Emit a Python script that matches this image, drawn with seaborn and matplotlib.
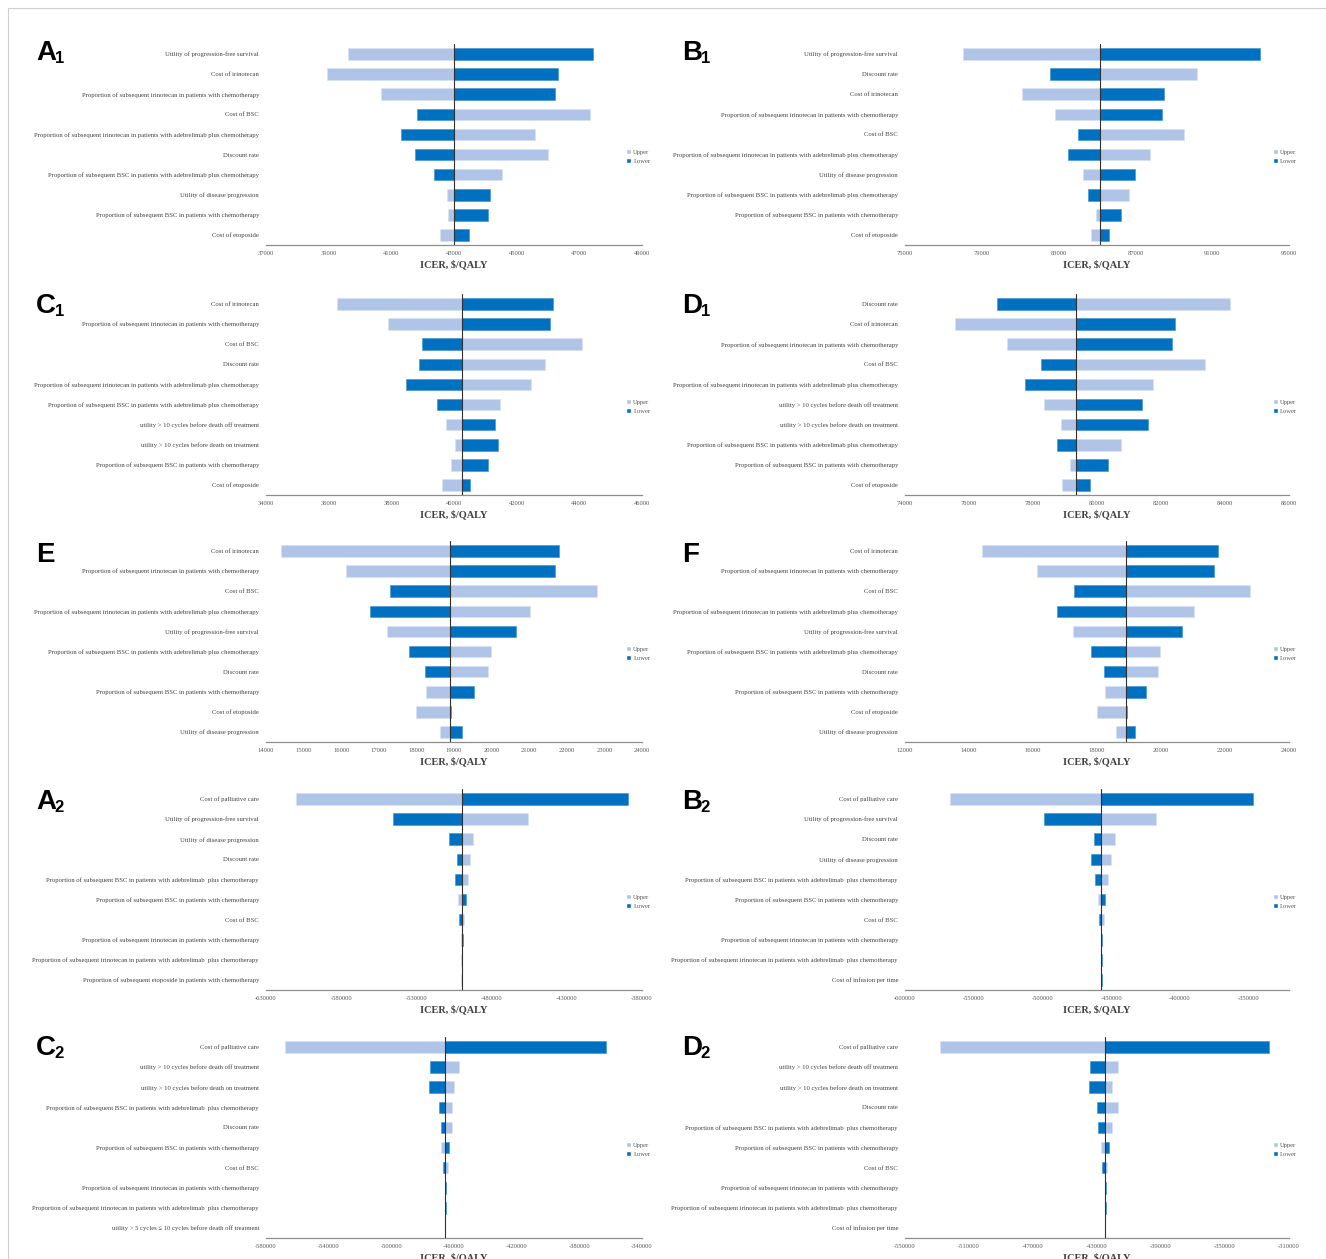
import numpy as np
import pandas as pd
import matplotlib
matplotlib.use("Agg")
import matplotlib.pyplot as plt
import seaborn as sns
from matplotlib.patches import Patch, Rectangle

sns.set_theme(style="white")
plt.rcParams['font.family'] = ['Liberation Serif', 'DejaVu Serif']

LIGHT = "#AFC4E7"
DARK = "#0070C0"

# ---------------- data ----------------
PFS = "Utility of progression-free survival"
IRI = "Cost of irinotecan"
PIC = "Proportion of subsequent irinotecan in patients with chemotherapy"
BSC = "Cost of BSC"
PIA = "Proportion of subsequent irinotecan in patients with adebrelimab plus chemotherapy"
DIS = "Discount rate"
PBA = "Proportion of subsequent BSC in patients with adebrelimab plus chemotherapy"
UDP = "Utility of disease progression"
PBC = "Proportion of subsequent BSC in patients with chemotherapy"
ETO = "Cost of etoposide"
UOFF = "utility > 10 cycles before death off treatment"
UON = "utility > 10 cycles before death on treatment"
PAL = "Cost of palliative care"
PBA2 = "Proportion of subsequent BSC in patients with adebrelimab  plus chemotherapy"
PIA2 = "Proportion of subsequent irinotecan in patients with adebrelimab  plus chemotherapy"
PEC = "Proportion of subsequent etoposide in patients with chemotherapy"
INF = "Cost of infusion per time"
U5 = "utility > 5 cycles \u2264 10 cycles before death off treatment"

a1_labels = [PFS, IRI, PIC, BSC, PIA, DIS, PBA, UDP, PBC, ETO]
a1_upper = [39620, 38950, 40680, 47330, 45570, 46000, 44530, 42790, 42800, 42540]
a1_lower = [47450, 46320, 46220, 41830, 41310, 41770, 42360, 44140, 44090, 43470]
a1_base = 43000

b1_labels = [PFS, DIS, IRI, PIC, BSC, PIA, UDP, PBA, PBC, ETO]
b1_upper = [78040, 90200, 81090, 82800, 89510, 87760, 84290, 86690, 84960, 84690]
b1_lower = [93510, 82560, 88490, 88380, 84000, 83470, 86960, 84510, 86240, 85620]
b1_base = 85150

c1_labels = [IRI, PIC, BSC, DIS, PIA, PBA, UOFF, UON, PBC, ETO]
c1_upper = [36270, 37880, 44100, 42920, 42470, 41480, 39750, 40020, 39890, 39630]
c1_lower = [43160, 43060, 38980, 38870, 38480, 39470, 41320, 41410, 41080, 40500]
c1_base = 40270

d1_labels = [DIS, IRI, PIC, BSC, PIA, UOFF, UON, PBA, PBC, ETO]
d1_upper = [84160, 75570, 77200, 83390, 81740, 78340, 78870, 80760, 79160, 78910]
d1_lower = [76870, 82430, 82340, 78260, 77760, 81420, 81590, 78740, 80350, 79780]
d1_base = 79350

e_labels = [IRI, PIC, BSC, PIA, PFS, PBA, DIS, PBC, ETO, UDP]
e_upper = [14390, 16130, 22790, 21020, 17230, 19980, 19910, 18260, 18000, 18620]
e_lower = [21780, 21680, 17290, 16770, 20640, 17810, 18230, 19540, 18930, 19200]
e_base = 18900

f_labels = [IRI, PIC, BSC, PIA, PFS, PBA, DIS, PBC, ETO, UDP]
f_upper = [14400, 16120, 22790, 21030, 17240, 19980, 19920, 18260, 17990, 18600]
f_lower = [21770, 21670, 17290, 16760, 20650, 17820, 18220, 19530, 18930, 19200]
f_base = 18900

a2_labels = [PAL, PFS, UDP, DIS, PBA2, PBC, BSC, PIC, PIA2, PEC]
a2_upper = [-610300, -456100, -492200, -494100, -495800, -502300, -498100, -500400, -500300, -500200]
a2_lower = [-389000, -545500, -508000, -503200, -504300, -497200, -501500, -499300, -499500, -499700]
a2_base = -500000

b2_labels = [PAL, PFS, DIS, UDP, PBA2, PBC, BSC, PIC, PIA2, INF]
b2_upper = [-567150, -417300, -447300, -450100, -452600, -459800, -455100, -457300, -457200, -457100]
b2_lower = [-346900, -498600, -462600, -464500, -461400, -454500, -458600, -456400, -456700, -456900]
b2_base = -457000

c2_labels = [PAL, UOFF, UON, PBA2, DIS, PBC, BSC, PIC, PIA2, U5]
c2_upper = [-567800, -456900, -460100, -461200, -461000, -468000, -463700, -465900, -465800, -465700]
c2_lower = [-362700, -475300, -476100, -469600, -468300, -463100, -467200, -465000, -465300, -465500]
c2_base = -465600

d2_labels = [PAL, UOFF, UON, DIS, PBA2, PBC, BSC, PIC, PIA2, INF]
d2_upper = [-527900, -417100, -420600, -417100, -420900, -427600, -423600, -425200, -425100, -425000]
d2_lower = [-322400, -434300, -435100, -430000, -429500, -422700, -426800, -424400, -424600, -424800]
d2_base = -424900

# ---------------- layout ----------------
W, H = 1326, 1259
fig = plt.figure(figsize=(W / 100, H / 100), dpi=100)
fig.patch.set_facecolor("white")

COLS = [(266, 376, 36), (905, 384, 682)]   # axes left, width, letter x
ROWS = [44, 294, 541, 789, 1037]          # axes top
AX_H = 201
LETTER_BASE = [60, 313, 562, 809, 1055]

panels = [
    ("A", "1", a1_labels, a1_upper, a1_lower, a1_base, (37000, 49000), np.arange(37000, 49001, 2000), 0, 0),
    ("B", "1", b1_labels, b1_upper, b1_lower, b1_base, (75000, 95000), np.arange(75000, 95001, 4000), 0, 1),
    ("C", "1", c1_labels, c1_upper, c1_lower, c1_base, (34000, 46000), np.arange(34000, 46001, 2000), 1, 0),
    ("D", "1", d1_labels, d1_upper, d1_lower, d1_base, (74000, 86000), np.arange(74000, 86001, 2000), 1, 1),
    ("E", "", e_labels, e_upper, e_lower, e_base, (14000, 24000), np.arange(14000, 24001, 1000), 2, 0),
    ("F", "", f_labels, f_upper, f_lower, f_base, (12000, 24000), np.arange(12000, 24001, 2000), 2, 1),
    ("A", "2", a2_labels, a2_upper, a2_lower, a2_base, (-630000, -380000), np.arange(-630000, -379999, 50000), 3, 0),
    ("B", "2", b2_labels, b2_upper, b2_lower, b2_base, (-600000, -320500), np.arange(-600000, -349999, 50000), 3, 1),
    ("C", "2", c2_labels, c2_upper, c2_lower, c2_base, (-580000, -340000), np.arange(-580000, -339999, 40000), 4, 0),
    ("D", "2", d2_labels, d2_upper, d2_lower, d2_base, (-550000, -310000), np.arange(-550000, -309999, 40000), 4, 1),
]

for letter, sub, labels, upper, lower, base, xlim, ticks, r, c in panels:
    x0, w, lx = COLS[c]
    top = ROWS[r]
    ax = fig.add_axes([x0 / W, 1 - (top + AX_H) / H, w / W, AX_H / H])
    df = pd.DataFrame({
        "param": labels,
        "upper": np.array(upper, dtype=float) - base,
        "lower": np.array(lower, dtype=float) - base,
    })
    sns.barplot(data=df, x="upper", y="param", orient="y", left=base, color=LIGHT,
                saturation=1, width=0.58, errorbar=None, edgecolor="#D6E2F4",
                linewidth=0.4, ax=ax)
    sns.barplot(data=df, x="lower", y="param", orient="y", left=base, color=DARK,
                saturation=1, width=0.58, errorbar=None, edgecolor="#3C8FD0",
                linewidth=0.4, ax=ax)
    ax.axvline(base, color="#303030", lw=0.8, zorder=5)
    ax.set_xlim(*xlim)
    ax.set_ylim(len(labels) - 0.5, -0.5)
    ax.set_xticks(ticks)
    ax.set_xticklabels([str(int(t)) for t in ticks])
    sns.despine(ax=ax, left=True)
    ax.spines["bottom"].set_color("#8c8c8c")
    ax.spines["bottom"].set_linewidth(0.9)
    ax.tick_params(axis="x", direction="inout", length=3, width=0.6, color="#8c8c8c",
                   labelsize=4.7, labelcolor="#595959", pad=2.5)
    ax.tick_params(axis="y", length=0, labelsize=4.75, labelcolor="#404040", pad=5)
    ax.set_ylabel("")
    ax.set_xlabel("ICER, $/QALY", fontsize=7.4, fontweight="bold", color="#404040", labelpad=2.5)
    handles = [Patch(facecolor=LIGHT, label="Upper"), Patch(facecolor=DARK, label="Lower")]
    leg = ax.legend(handles=handles, loc="center left", bbox_to_anchor=(0.958, 0.44),
                    frameon=False, fontsize=4.7, handlelength=0.75, handleheight=0.75,
                    handletextpad=0.35, labelspacing=0.45, borderpad=0, borderaxespad=0)
    for t in leg.get_texts():
        t.set_color("#595959")

    # panel letter
    yb = 1 - LETTER_BASE[r] / H
    fig.text(lx / W, yb, letter, fontsize=20, fontweight="bold", color="black",
             family=["Liberation Sans", "DejaVu Sans"], va="baseline", ha="left")
    if sub:
        fig.text((lx + 18.5) / W, yb - 3 / H, sub, fontsize=12, fontweight="bold", color="black",
                 family=["Liberation Sans", "DejaVu Sans"], va="baseline", ha="left")

# thin outer frame
fig.patches.append(Rectangle((8 / W, -0.1), 1.2, 1 - 8 / H + 0.1, transform=fig.transFigure,
                             fill=False, edgecolor="#cfcfcf", lw=0.8))

fig.savefig("out.png", dpi=100)
